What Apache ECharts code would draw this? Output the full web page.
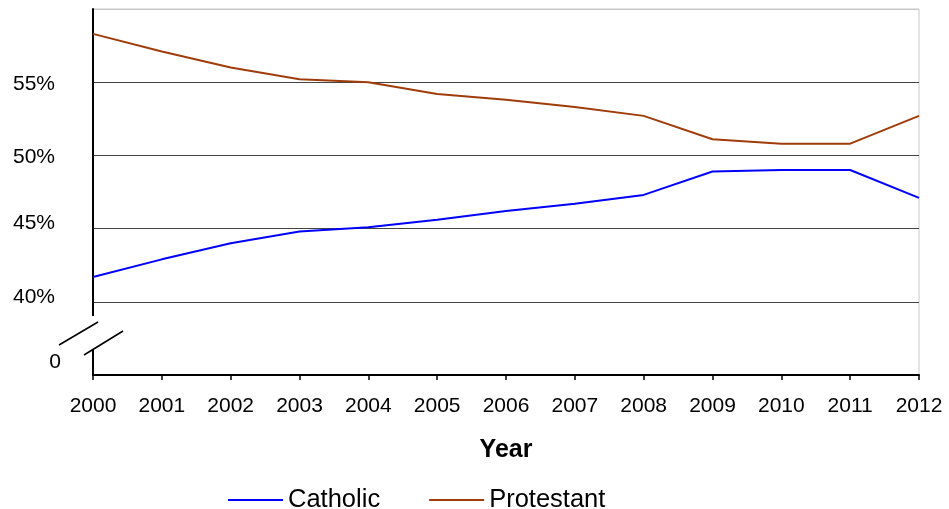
<!DOCTYPE html>
<html>
<head>
<meta charset="utf-8">
<script src="https://cdn.jsdelivr.net/npm/echarts@6/dist/echarts.min.js"></script>
<style>
  html, body { margin: 0; padding: 0; background: #fff; }
  #chart { width: 949px; height: 509px; }
</style>
</head>
<body>
<div id="chart"></div>
<script>
// Share of population by denomination, 2000-2012 (percent)
var years = ['2000','2001','2002','2003','2004','2005','2006','2007','2008','2009','2010','2011','2012'];
var catholic = [41.7, 42.9, 44.0, 44.8, 45.1, 45.6, 46.2, 46.7, 47.3, 48.9, 49.0, 49.0, 47.1];
var protestant = [58.3, 57.1, 56.0, 55.2, 55.0, 54.2, 53.8, 53.3, 52.7, 51.1, 50.8, 50.8, 52.7];
var yTicks = [40, 45, 50, 55];

var FONT = '"Liberation Sans", Arial, sans-serif';
var chart = echarts.init(document.getElementById('chart'));

chart.setOption({
  animation: false,
  backgroundColor: '#fff',
  textStyle: { fontFamily: FONT },
  grid: {
    left: 93, right: 30, top: 9, bottom: 134,
    show: true, borderColor: '#c8c8c8', borderWidth: 1
  },
  xAxis: {
    type: 'category',
    data: years,
    boundaryGap: false,
    axisLine: { lineStyle: { color: '#000', width: 2 } },
    axisTick: { show: true, inside: false, length: 5, lineStyle: { color: '#000', width: 1.5 } },
    axisLabel: { color: '#000', fontSize: 21, margin: 21, fontFamily: FONT },
    name: 'Year',
    nameLocation: 'middle',
    nameGap: 63,
    nameTextStyle: { color: '#000', fontSize: 25, fontWeight: 'bold', fontFamily: FONT }
  },
  yAxis: {
    type: 'value',
    min: 35, max: 60, interval: 5,
    axisLine: { show: true, lineStyle: { color: '#000', width: 2 } },
    axisTick: { show: false },
    // gridlines for 35..60; the top one sits on the light frame
    splitLine: { show: true, lineStyle: { color: ['#444', '#444', '#444', '#444', '#444', '#c8c8c8'], width: 1 } },
    axisLabel: {
      color: '#000', fontSize: 21, margin: 38, fontFamily: FONT,
      formatter: function (v) {
        if (yTicks.indexOf(v) < 0) return '';
        return v <= 45 ? '{lo|' + v + '%}' : '{hi|' + v + '%}';
      },
      rich: {
        hi: { fontSize: 21, color: '#000', fontFamily: FONT, padding: [4, 0, 0, 0] },
        lo: { fontSize: 21, color: '#000', fontFamily: FONT, padding: [0, 0, 10, 0] }
      }
    }
  },
  legend: {
    left: 223, top: 482,
    icon: 'rect', itemWidth: 55, itemHeight: 2, itemGap: 49,
    textStyle: { color: '#000', fontSize: 25.5, fontFamily: FONT },
    data: ['Catholic', 'Protestant']
  },
  series: [
    {
      name: 'Catholic', type: 'line', data: catholic,
      showSymbol: false, symbol: 'none',
      lineStyle: { color: '#0000ff', width: 2 },
      itemStyle: { color: '#0000ff' }
    },
    {
      name: 'Protestant', type: 'line', data: protestant,
      showSymbol: false, symbol: 'none',
      lineStyle: { color: '#a03c0a', width: 2 },
      itemStyle: { color: '#a03c0a' }
    }
  ],
  graphic: [
    // axis break between 0 and the 40% band
    { type: 'rect', shape: { x: 88, y: 316, width: 10, height: 33 }, style: { fill: '#fff' }, z: 100 },
    { type: 'line', shape: { x1: 59, y1: 345, x2: 98, y2: 322 }, style: { stroke: '#000', lineWidth: 1.5 }, z: 101 },
    { type: 'line', shape: { x1: 84, y1: 355, x2: 123, y2: 331 }, style: { stroke: '#000', lineWidth: 1.5 }, z: 101 },
    { type: 'text', x: 61, y: 362, style: { text: '0', font: '21px ' + FONT, fill: '#000', align: 'right', verticalAlign: 'middle' }, z: 101 }
  ]
});
</script>
</body>
</html>
